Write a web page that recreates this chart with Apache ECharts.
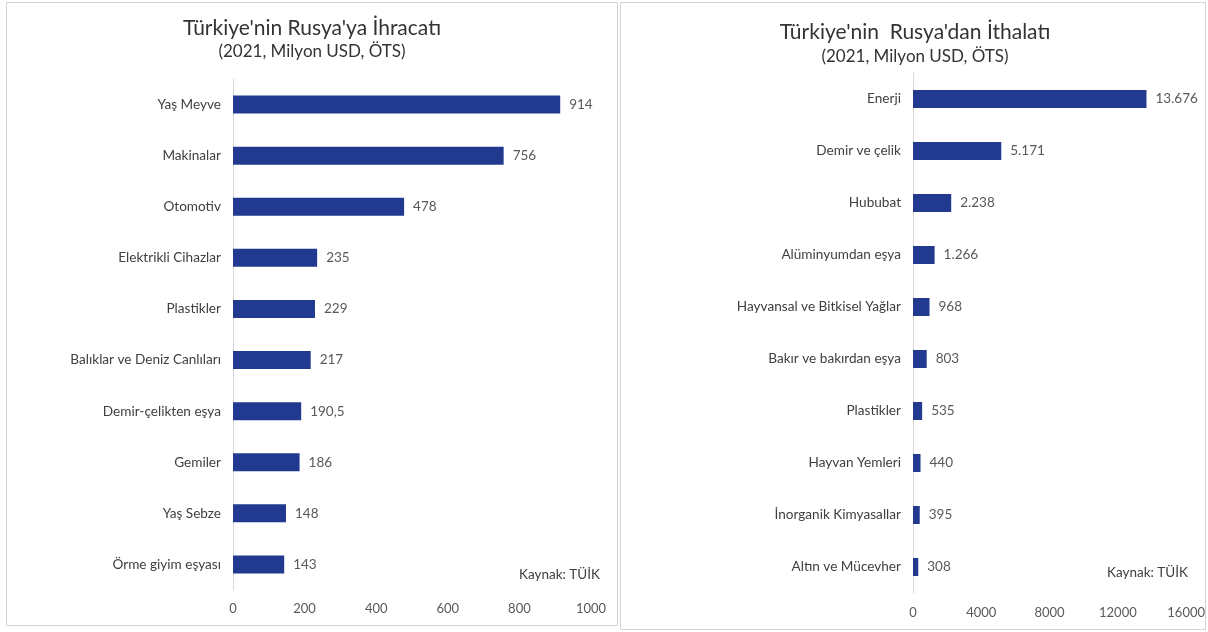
<!DOCTYPE html>
<html>
<head>
<meta charset="utf-8">
<script src="https://cdn.jsdelivr.net/npm/echarts@6/dist/echarts.min.js"></script>
<style>
  html, body { margin: 0; padding: 0; background: #fff; }
  #chart { width: 1208px; height: 632px; }
</style>
</head>
<body>
<div id="chart"></div>
<script>
  // ihracat (export) - sol grafik
  var exportCats = ['Yaş Meyve', 'Makinalar', 'Otomotiv', 'Elektrikli Cihazlar', 'Plastikler',
    'Balıklar ve Deniz Canlıları', 'Demir-çelikten eşya', 'Gemiler', 'Yaş Sebze', 'Örme giyim eşyası'];
  var exportVals = [914, 756, 478, 235, 229, 217, 190.5, 186, 148, 143];

  // ithalat (import) - sag grafik
  var importCats = ['Enerji', 'Demir ve çelik', 'Hububat', 'Alüminyumdan eşya', 'Hayvansal ve Bitkisel Yağlar',
    'Bakır ve bakırdan eşya', 'Plastikler', 'Hayvan Yemleri', 'İnorganik Kimyasallar', 'Altın ve Mücevher'];
  var importVals = [13676, 5171, 2238, 1266, 968, 803, 535, 440, 395, 308];

  var titles = ["Türkiye'nin Rusya'ya İhracatı", "Türkiye'nin  Rusya'dan İthalatı"];
  var subtitle = '(2021, Milyon USD, ÖTS)';
  var source = 'Kaynak: TÜİK';

  var FONT = 'Lato, "Open Sans", sans-serif';
  var BAR = '#213a8f';

  // 13676 -> 13.676 , 190.5 -> 190,5
  function trNum(v) {
    var parts = String(v).split('.');
    var s = parts[0].replace(/\B(?=(\d{3})+(?!\d))/g, '.');
    if (parts[1]) s += ',' + parts[1];
    return s;
  }

  var chart = echarts.init(document.getElementById('chart'));

  function yAx(idx, cats) {
    return {
      type: 'category', gridIndex: idx, data: cats, inverse: true,
      axisLine: { show: true, lineStyle: { color: '#d9d9d9', width: 1 } },
      axisTick: { show: false },
      axisLabel: { color: '#404040', fontSize: 13.6, fontFamily: FONT, margin: 12 }
    };
  }
  function xAx(idx, max, step, margin) {
    return {
      type: 'value', gridIndex: idx, min: 0, max: max, interval: step,
      axisLine: { show: false }, axisTick: { show: false },
      splitLine: { show: false },
      axisLabel: {
        color: '#595959', fontSize: 13, fontFamily: FONT, margin: margin,
        formatter: function (v) { return String(v); }
      }
    };
  }
  function barSeries(idx, vals) {
    return {
      type: 'bar', xAxisIndex: idx, yAxisIndex: idx, data: vals, barWidth: 18,
      itemStyle: { color: BAR },
      label: {
        show: true, position: 'right', distance: 9, color: '#595959', fontSize: 13.5, fontFamily: FONT,
        formatter: function (p) { return trNum(p.value); }
      }
    };
  }

  chart.setOption({
    animation: false,
    grid: [
      { left: 233, top: 79, width: 358, height: 511 },
      { left: 913, top: 73, width: 274, height: 520 }
    ],
    xAxis: [xAx(0, 1000, 200, 12), xAx(1, 16000, 4000, 13)],
    yAxis: [yAx(0, exportCats), yAx(1, importCats)],
    series: [barSeries(0, exportVals), barSeries(1, importVals)],
    graphic: [
      { type: 'rect', shape: { x: 6.5, y: 2.5, width: 611, height: 623 }, style: { fill: 'none', stroke: '#d4d4d4', lineWidth: 1 } },
      { type: 'rect', shape: { x: 620.5, y: 2.5, width: 585, height: 627 }, style: { fill: 'none', stroke: '#d4d4d4', lineWidth: 1 } },
      { type: 'text', style: { text: titles[0], x: 312, y: 28, textAlign: 'center', textVerticalAlign: 'middle', fill: '#333', font: '21px ' + FONT } },
      { type: 'text', style: { text: subtitle, x: 312, y: 52, textAlign: 'center', textVerticalAlign: 'middle', fill: '#333', font: '17px ' + FONT } },
      { type: 'text', style: { text: titles[1], x: 915, y: 32, textAlign: 'center', textVerticalAlign: 'middle', fill: '#333', font: '21px ' + FONT } },
      { type: 'text', style: { text: subtitle, x: 915, y: 57, textAlign: 'center', textVerticalAlign: 'middle', fill: '#333', font: '17px ' + FONT } },
      { type: 'text', style: { text: source, x: 600, y: 575, textAlign: 'right', textVerticalAlign: 'middle', fill: '#404040', font: '13.5px ' + FONT } },
      { type: 'text', style: { text: source, x: 1188, y: 573, textAlign: 'right', textVerticalAlign: 'middle', fill: '#404040', font: '13.5px ' + FONT } }
    ]
  });
</script>
</body>
</html>
